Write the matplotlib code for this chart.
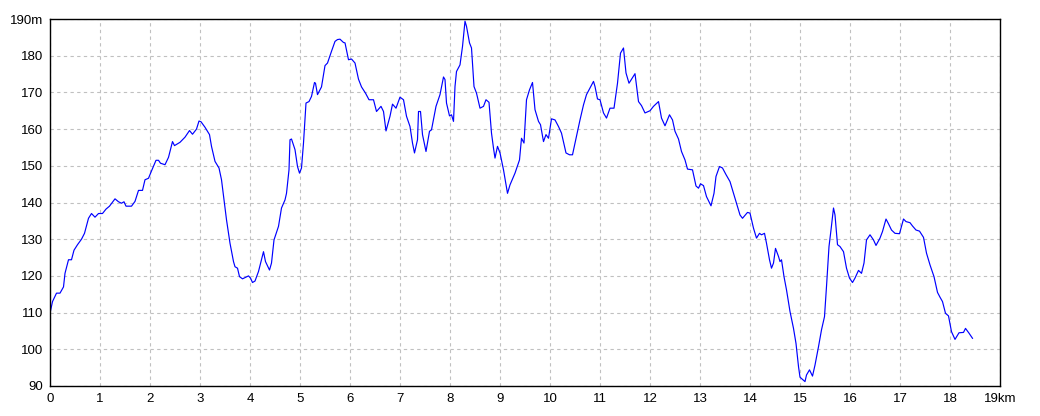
import matplotlib
matplotlib.use("Agg")
import matplotlib.pyplot as plt

# Perfil de elevación: distancia (km) y altitud (m)
dist_km = [
    0.0, 0.05, 0.13, 0.2, 0.27, 0.3, 0.37, 0.43, 0.48, 0.55, 0.63, 0.69, 0.77, 0.83, 0.9, 0.97,
    1.05, 1.12, 1.19, 1.3, 1.37, 1.43, 1.48, 1.52, 1.63, 1.7, 1.77, 1.85, 1.9, 1.97,
    2.03, 2.12, 2.17, 2.21, 2.3, 2.37, 2.45, 2.49, 2.6, 2.7, 2.79, 2.85, 2.93, 2.98,
    3.02, 3.1, 3.19, 3.23, 3.3, 3.38, 3.43, 3.48, 3.53, 3.6, 3.67, 3.7, 3.75, 3.79, 3.85, 3.97,
    4.01, 4.05, 4.1, 4.17, 4.27, 4.31, 4.39, 4.43, 4.48, 4.57, 4.63, 4.7, 4.73, 4.78, 4.8, 4.83,
    4.9, 4.95, 4.99, 5.03, 5.07, 5.12, 5.18, 5.23, 5.29, 5.31, 5.35, 5.43, 5.5, 5.55, 5.63,
    5.7, 5.75, 5.8, 5.87, 5.9, 5.97, 6.03, 6.1, 6.17, 6.23, 6.31, 6.38, 6.47, 6.53, 6.62,
    6.67, 6.72, 6.8, 6.85, 6.92, 7.0, 7.07, 7.13, 7.2, 7.25, 7.29, 7.35, 7.37, 7.41, 7.45,
    7.52, 7.59, 7.63, 7.72, 7.8, 7.87, 7.9, 7.93, 7.99, 8.03, 8.07, 8.1, 8.13, 8.2, 8.25,
    8.3, 8.33, 8.39, 8.43, 8.48, 8.53, 8.6, 8.67, 8.72, 8.78, 8.83, 8.87, 8.9, 8.95, 9.0,
    9.07, 9.15, 9.2, 9.3, 9.39, 9.43, 9.48, 9.53, 9.59, 9.65, 9.7, 9.77, 9.81, 9.87, 9.92,
    9.97, 10.03, 10.1, 10.17, 10.23, 10.32, 10.39, 10.45, 10.53, 10.6, 10.67, 10.73, 10.87,
    10.9, 10.95, 11.0, 11.07, 11.13, 11.2, 11.28, 11.35, 11.41, 11.47, 11.52, 11.58, 11.7,
    11.77, 11.83, 11.9, 12.0, 12.07, 12.17, 12.23, 12.3, 12.39, 12.45, 12.5, 12.57, 12.63,
    12.7, 12.75, 12.85, 12.92, 12.97, 13.01, 13.07, 13.13, 13.22, 13.28, 13.32, 13.39, 13.45,
    13.52, 13.6, 13.67, 13.75, 13.8, 13.85, 13.95, 14.0, 14.07, 14.13, 14.19, 14.23, 14.29,
    14.33, 14.39, 14.43, 14.47, 14.51, 14.57, 14.6, 14.63, 14.68, 14.73, 14.8, 14.87, 14.92,
    14.97, 15.0, 15.05, 15.1, 15.13, 15.19, 15.25, 15.3, 15.37, 15.43, 15.49, 15.53, 15.58,
    15.62, 15.67, 15.7, 15.75, 15.8, 15.87, 15.93, 15.99, 16.05, 16.1, 16.17, 16.23, 16.28,
    16.33, 16.4, 16.47, 16.52, 16.6, 16.65, 16.72, 16.77, 16.83, 16.9, 16.99, 17.07, 17.12,
    17.2, 17.25, 17.32, 17.39, 17.47, 17.53, 17.6, 17.68, 17.75, 17.8, 17.85, 17.91, 17.97,
    18.03, 18.1, 18.18, 18.27, 18.31, 18.38, 18.45,
]
elev_m = [
    109.8, 113, 115.3, 115.3, 117, 120.7, 124.4, 124.4, 127, 128.5, 130, 131.6, 135.7, 137, 136, 137,
    137, 138.2, 139, 141, 140.2, 139.8, 140.2, 139, 139, 140.3, 143.3, 143.3, 146.2, 146.6,
    148.6, 151.5, 151.5, 150.7, 150.3, 152.3, 156.6, 155.5, 156.4, 157.8, 159.6, 158.6, 160, 162.2,
    162, 160.5, 158.5, 155.3, 151.2, 149.4, 146.2, 140.7, 135.3, 128.9, 123.9, 122.5, 122.1, 119.8, 119.2, 120,
    119.4, 118.2, 118.6, 121.2, 126.6, 123.9, 121.6, 123.5, 129.8, 133.5, 138.5, 140.7, 142.5, 148.9, 157.1, 157.3,
    154.4, 149.8, 148, 149.4, 156.2, 167.1, 167.5, 168.9, 172.7, 172.5, 169.4, 171.5, 177.3, 178, 181.2,
    183.9, 184.4, 184.5, 183.6, 183.5, 178.9, 179.1, 178, 173.6, 171.5, 169.8, 168, 168, 164.8, 166.2,
    164.8, 159.5, 163.5, 166.8, 165.7, 168.7, 168, 163.5, 160.7, 156.2, 153.5, 157.1, 164.8, 164.8, 158.5,
    153.9, 159.4, 159.8, 166.2, 169.4, 174.2, 173.5, 167.1, 163.6, 163.9, 162.1, 171.6, 175.7, 177.5, 182.5,
    189.4, 188, 183.5, 182.1, 171.6, 169.8, 165.7, 166.2, 168, 167.3, 158.9, 154.8, 152.1, 155.3, 153.5,
    148.9, 142.5, 144.8, 148, 151.6, 157.5, 156.2, 168, 170.7, 172.7, 165.3, 162.1, 161.2, 156.6, 158.5,
    157.5, 162.8, 162.5, 160.7, 158.9, 153.5, 153, 153, 158, 162.5, 166.6, 169.4, 173,
    171.6, 168.2, 168, 164.4, 163, 165.7, 165.7, 172.5, 180.7, 182.1, 175.3, 172.5, 175.1,
    167.5, 166.4, 164.4, 165, 166.2, 167.5, 163, 160.9, 163.9, 162.5, 159.4, 157.3, 153.9,
    151.6, 149.1, 148.9, 144.5, 143.9, 145.1, 144.6, 141.6, 139.1, 142.5, 147.1, 149.8, 149.4,
    147.6, 145.7, 142.5, 138.9, 136.6, 135.7, 137.3, 137.1, 133, 130.3, 131.6, 131.2, 131.6,
    128.9, 124.4, 122.1, 123.5, 127.5, 125.3, 123.9, 124.4, 119.8, 116.2, 110.3, 105.7, 101.6,
    95.3, 92.4, 91.8, 91.2, 93, 94.4, 92.7, 95.7, 100.7, 105.3, 108.9, 117.1, 128,
    132.5, 138.5, 136.6, 128.5, 128, 126.6, 122.1, 119.4, 118.2, 119.4, 121.5, 120.7, 123.5,
    129.8, 131.2, 129.8, 128.3, 130.3, 132.1, 135.5, 134.2, 132.5, 131.6, 131.5, 135.5, 134.8,
    134.5, 133.6, 132.5, 132.2, 130.5, 126.2, 123, 119.8, 115.5, 114.2, 113, 109.8, 109.1,
    104.8, 102.7, 104.5, 104.6, 105.7, 104.4, 103,
]

x_ticks = list(range(0, 20))
x_labels = [str(k) for k in range(0, 19)] + ["19km"]
y_ticks = list(range(90, 200, 10))
y_labels = [str(v) for v in range(90, 190, 10)] + ["190m"]

plt.rcParams['font.family'] = ['Liberation Sans', 'DejaVu Sans']

fig = plt.figure(figsize=(10.4, 4.16), dpi=100)
ax = fig.add_axes([50 / 1040, 1 - 386 / 416, 950 / 1040, 367 / 416])

ax.plot(dist_km, elev_m, color='#0000ff', linewidth=0.85)

ax.set_xlim(0, 19)
ax.set_ylim(90, 190)
ax.set_xticks(x_ticks)
ax.set_xticklabels(x_labels)
ax.set_yticks(y_ticks)
ax.set_yticklabels(y_labels)
ax.tick_params(length=0, labelsize=9.5, pad=5, colors='black')

ax.grid(True, color='#c0c0c0', linestyle=(0, (3, 3)), linewidth=0.8)
for s in ax.spines.values():
    s.set_color('black')
    s.set_linewidth(1.0)

fig.savefig("out.png", dpi=100)
